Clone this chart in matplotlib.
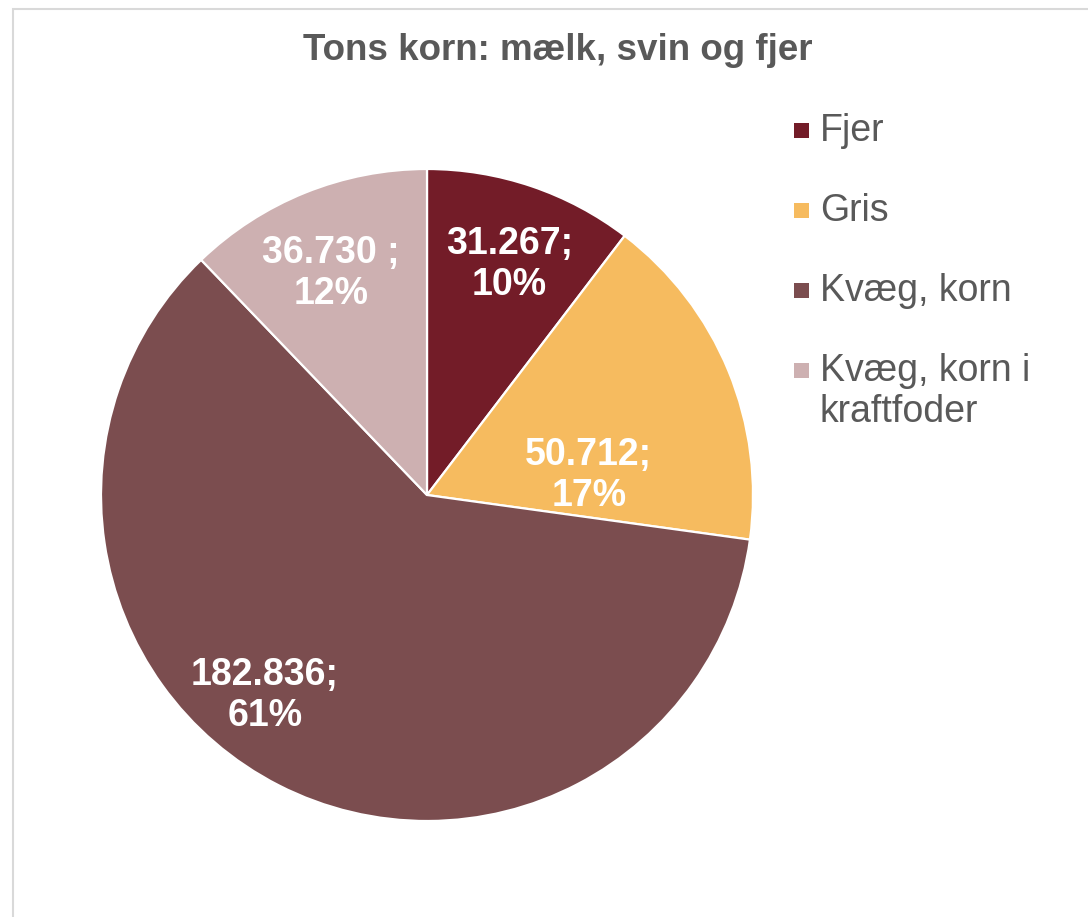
import matplotlib.pyplot as plt
import numpy as np
from matplotlib.patches import Rectangle

plt.rcParams['font.family'] = ['Liberation Sans', 'DejaVu Sans']

categories = ['Fjer', 'Gris', 'Kvæg, korn', 'Kvæg, korn i\nkraftfoder']
tons = [31267, 50712, 182836, 36730]
separators = [';', ';', ';', ' ;']
colors = ['#731C28', '#F6BB5F', '#7B4D4F', '#CDB0B1']

# label placement (radius as fraction, angle offset in degrees) - Excel best fit
label_radius = [0.75, 0.50, 0.79, 0.74]
label_shift = [-1.0, -15.5, -12.0, 1.5]

W, H = 1088, 917
fig = plt.figure(figsize=(W / 100, H / 100), dpi=100)

# chart frame
fig.patches.append(Rectangle((13 / W, -0.1), 1.2, 1.1 - 9 / H, transform=fig.transFigure,
                             fill=False, edgecolor='#D9D9D9', linewidth=1.5))

cx, cy, r = 427, 495, 326
ax = fig.add_axes([(cx - r) / W, (H - cy - r) / H, 2 * r / W, 2 * r / H])
wedges, _ = ax.pie(tons, colors=colors, startangle=90, counterclock=False, radius=1,
                   wedgeprops=dict(edgecolor='white', linewidth=1.6))
ax.set_xlim(-1, 1)
ax.set_ylim(-1, 1)
ax.set_aspect('equal')
ax.axis('off')

total = sum(tons)
for w, v, sep, rr, sh in zip(wedges, tons, separators, label_radius, label_shift):
    mid = np.deg2rad((w.theta1 + w.theta2) / 2 + sh)
    txt = f"{v:,}".replace(',', '.') + sep + '\n' + f"{round(v / total * 100)}%"
    ax.text(rr * np.cos(mid), rr * np.sin(mid), txt, ha='center', va='center',
            color='white', fontsize=27, fontweight='bold', linespacing=1.18)

fig.text(558 / W, 1 - 50 / H, 'Tons korn: mælk, svin og fjer', ha='center', va='center',
         fontsize=26.5, fontweight='bold', color='#595959')

# legend, drawn by hand so the marker sits on the first line of a wrapped label
leg_x, leg_y, leg_step, box = 794, 130, 80, 15
for i, (lab, col) in enumerate(zip(categories, colors)):
    yc = leg_y + i * leg_step
    fig.patches.append(Rectangle((leg_x / W, 1 - (yc + box / 2) / H), box / W, box / H,
                                 transform=fig.transFigure, facecolor=col, edgecolor='none'))
    fig.text((leg_x + box + 11) / W, 1 - (yc - 17) / H, lab, ha='left', va='top',
             fontsize=27, color='#595959', linespacing=1.18)

fig.savefig('out.png', dpi=100)
